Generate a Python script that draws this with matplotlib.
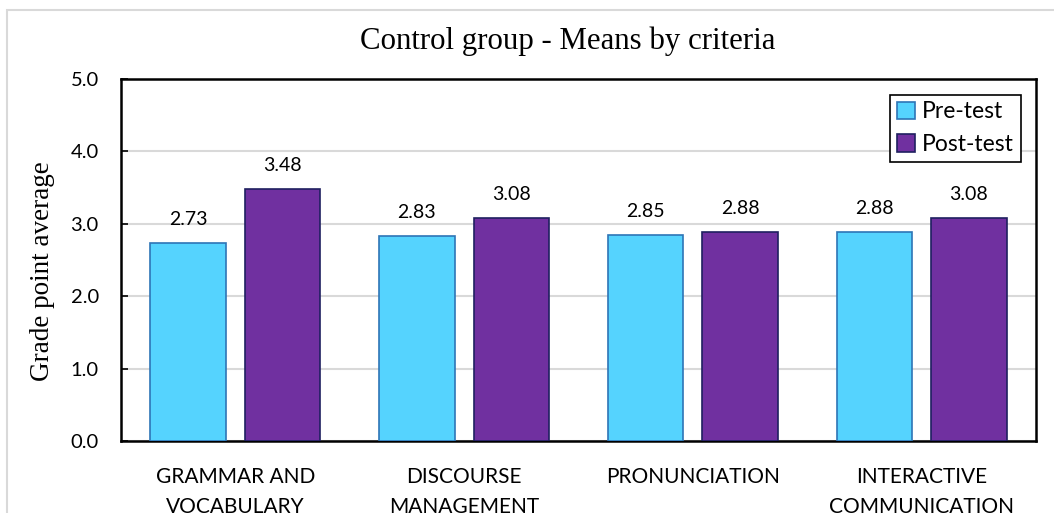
#!/usr/bin/env python3
import matplotlib
matplotlib.use("Agg")
import matplotlib.pyplot as plt
from matplotlib.patches import Rectangle
import numpy as np

categories = ["GRAMMAR AND\nVOCABULARY", "DISCOURSE\nMANAGEMENT",
              "PRONUNCIATION", "INTERACTIVE\nCOMMUNICATION"]
pre_test = [2.73, 2.83, 2.85, 2.88]
post_test = [3.48, 3.08, 2.88, 3.08]

SANS = ["Lato", "DejaVu Sans"]
SERIF = ["Liberation Serif", "DejaVu Serif"]

fig = plt.figure(figsize=(10.54, 5.13), dpi=100)
ax = fig.add_axes([121 / 1054, 1 - 441 / 513, (1036 - 121) / 1054, (441 - 79) / 513])

# light grey frame around the chart area
fig.patches.append(Rectangle((7 / 1054, -0.2), 1.2, 1 - 10 / 513 + 0.2,
                             transform=fig.transFigure, fill=False,
                             edgecolor="#d9d9d9", linewidth=1.5))

x = np.arange(len(categories))
w = 0.33
off = 0.207
b1 = ax.bar(x - off, pre_test, w, color="#55d3fe", edgecolor="#2e75b6",
            linewidth=1.2, label="Pre-test", zorder=3)
b2 = ax.bar(x + off, post_test, w, color="#7030a0", edgecolor="#1f2060",
            linewidth=1.2, label="Post-test", zorder=3)

for bars, vals in ((b1, pre_test), (b2, post_test)):
    for bar, v in zip(bars, vals):
        ax.annotate(f"{v:.2f}", (bar.get_x() + bar.get_width() / 2, v),
                    xytext=(0, 17), textcoords="offset points",
                    ha="center", va="center", fontsize=14, family=SANS)

ax.set_xlim(-0.5, len(categories) - 0.5)
ax.set_ylim(0, 5)
ax.set_yticks(np.arange(0, 5.1, 1.0))
ax.set_yticklabels([f"{t:.1f}" for t in np.arange(0, 5.1, 1.0)],
                   family=SANS, fontsize=14.5)
ax.set_xticks(x)
ax.set_xticklabels(categories, family=SANS, fontsize=15, linespacing=1.6, va="top")
ax.tick_params(axis="y", direction="in", length=5, width=1.2, pad=16)
ax.tick_params(axis="x", length=0, pad=19)
ax.yaxis.grid(True, color="#d9d9d9", linewidth=1.5, zorder=0)
ax.set_axisbelow(True)
for s in ax.spines.values():
    s.set_linewidth(1.8)
    s.set_color("black")

ax.set_ylabel("Grade point average", family=SERIF, fontsize=19.5)
ax.yaxis.set_label_coords(-0.072, 0.47)
fig.text(568 / 1054, 1 - 41 / 513, "Control group - Means by criteria",
         ha="center", va="center", family=SERIF, fontsize=22.2)

leg = ax.legend(loc="upper right", bbox_to_anchor=(0.9835, 0.957), prop={"family": SANS, "size": 16.5},
                handlelength=0.8, handleheight=0.8, handletextpad=0.3,
                labelspacing=0.5, borderpad=0.3, fancybox=False,
                framealpha=1, edgecolor="black", borderaxespad=0)
leg.get_frame().set_linewidth(1.2)

fig.savefig("out.png", dpi=100)
